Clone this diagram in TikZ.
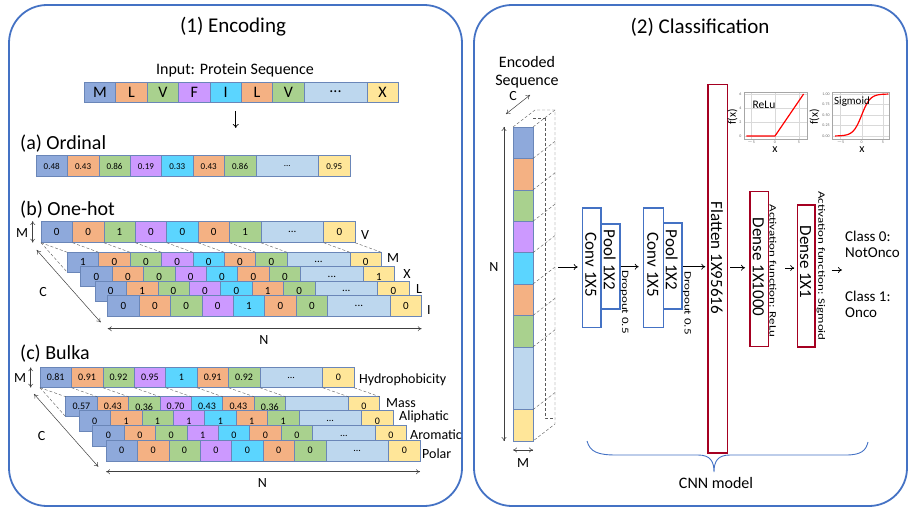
\documentclass[tikz,border=0pt]{standalone}
\usepackage{fontspec}
\setmainfont{Carlito}
\usepackage{graphicx}
\usetikzlibrary{arrows.meta,calc}
\definecolor{cblue}{HTML}{8EA9DB}
\definecolor{corange}{HTML}{F4B183}
\definecolor{cgreen}{HTML}{A9D18E}
\definecolor{cpurple}{HTML}{CC99FF}
\definecolor{ccyan}{HTML}{5BD5FF}
\definecolor{clight}{HTML}{BDD7EE}
\definecolor{cyellow}{HTML}{FFE699}
\definecolor{panelblue}{HTML}{4472C4}
\definecolor{cellline}{HTML}{6A86B8}
\definecolor{darkred}{HTML}{A50021}
\colorlet{col1}{cblue}\colorlet{col2}{corange}\colorlet{col3}{cgreen}
\colorlet{col4}{cpurple}\colorlet{col5}{ccyan}\colorlet{col6}{corange}
\colorlet{col7}{cgreen}\colorlet{col8}{clight}\colorlet{col9}{cyellow}
\newcommand\fsz[1]{\fontsize{#1}{#1}\selectfont}
\newcommand\elli{...}
% #1 options, #2 name, #3 x, #4 y(top), #5 unit, #6 height, #7 values
\newcommand\cellrow[7][]{%
  \foreach \v [count=\i] in {#7}{%
    \pgfmathsetmacro\xs{#3+#5*(\i-1)+#5*(\i>8)}%
    \pgfmathsetmacro\cw{#5*(1+(\i==8))}%
    \node[cell,fill=col\i,minimum width=\cw pt,minimum height=#6 pt,#1] (#2-\i) at (\xs,#4) {\v};%
  }%
}
\begin{document}
\begin{tikzpicture}[x=1pt,y=-1pt,
  cell/.style={draw=cellline,line width=0.6pt,anchor=north west,inner sep=0pt,outer sep=0pt},
  depth/.style={densely dashed,line width=0.4pt,black!65},
  dim/.style={{To[length=4pt,width=5pt]}-{To[length=4pt,width=5pt]},line width=0.5pt,black!75},
  arr/.style={-{To[length=4pt,width=6pt]},line width=0.7pt},
  panel/.style={draw=panelblue,line width=1.8pt,rounded corners=38pt},
  bbox/.style={draw=panelblue,line width=1.5pt,fill=white,inner sep=0pt,anchor=north west},
  rbox/.style={draw=darkred,line width=1.5pt,fill=white,inner sep=0pt,anchor=north west},
  vtxt/.style={rotate=-90,inner sep=0pt,font=\fsz{17}},
  stxt/.style={rotate=-90,inner sep=0pt,font=\fsz{13}},
  lbl/.style={inner sep=0pt,font=\fsz{14}},
  grid/.style={black!15,line width=0.3pt},
  tick/.style={inner sep=0pt,font=\fsz{4},black!60}
]
\useasboundingbox (0,0) rectangle (910,508);
% panels
\draw[panel] (9,5) rectangle (462,506);
\draw[panel] (474,5) rectangle (907,506);
\node[inner sep=0pt,font=\fsz{21}] (t1) at (233,27) {(1) Encoding};
\node[inner sep=0pt,font=\fsz{21}] (t2) at (700,27) {(2) Classification};

% ---------- input ----------
\node[inner sep=0pt,font=\fsz{16}] (intitle) at (235,70) {Input: Protein Sequence};
\cellrow[font=\fsz{16}]{in}{84.3}{82}{31.4}{20}{M,L,V,F,I,L,V,\elli,X}
\coordinate (a0s) at (235.7,111);
\coordinate (a0e) at (235.7,128);
\draw[arr] (a0s) -- (a0e);

% ---------- ordinal ----------
\node[anchor=west,inner sep=0pt,font=\fsz{20}] (lblA) at (20,144) {(a) Ordinal};
\cellrow[font=\fsz{9}]{ord}{36}{155.7}{31.4}{21}{0.48,0.43,0.86,0.19,0.33,0.43,0.86,\elli,0.95}

% ---------- one-hot ----------
\node[anchor=west,inner sep=0pt,font=\fsz{20}] (lblB) at (20,210) {(b) One-hot};
\cellrow[font=\fsz{11}]{V}{41}{221}{31.4}{21.7}{0,0,1,0,0,0,1,\elli,0}
\cellrow[font=\fsz{11}]{M}{67.3}{252.3}{31.4}{20}{1,0,0,0,0,0,0,\elli,0}
\foreach \i in {1,...,9} \draw[depth] (V-\i.south west) -- (M-\i.north west);
\draw[depth] (V-9.south east) -- (M-9.north east);
\draw[depth] (V-1.south west) -- (M-1.south west);
\cellrow[font=\fsz{11}]{X}{80.7}{266.7}{31.4}{20}{0,0,0,0,0,0,0,\elli,1}
\cellrow[font=\fsz{11}]{L}{95}{281}{31.4}{20.5}{0,1,0,0,0,1,0,\elli,0}
\cellrow[font=\fsz{11}]{I}{107.7}{295.7}{31.4}{21}{0,0,0,0,1,0,0,\elli,0}
\node[lbl] (lV) at (365,235) {V};
\node[lbl] (lM) at (393,258) {M};
\node[lbl] (lX) at (407,274) {X};
\node[lbl] (lL) at (419,289) {L};
\node[lbl] (lI) at (429,310) {I};
\node[lbl] (bM) at (22,233) {M};
\draw[dim] ([xshift=-8.3pt]V-1.north west) -- ([xshift=-8.3pt]V-1.south west);
\coordinate (bC1) at (36.7,250);
\coordinate (bC2) at (100.7,322.3);
\draw[dim] (bC1) -- (bC2);
\node[lbl] (bC) at (43,291.7) {C};
\draw[dim] ([yshift=-12pt]I-1.south west) -- ([yshift=-12pt]I-9.south east);
\node[lbl] (bN) at (264,340) {N};

% ---------- bulka ----------
\node[anchor=west,inner sep=0pt,font=\fsz{20}] (lblC) at (20,354) {(c) Bulka};
\cellrow[font=\fsz{10}]{H}{40}{367.3}{31.4}{20.4}{0.81,0.91,0.92,0.95,1,0.91,0.92,\elli,0}
\cellrow[font=\fsz{10}]{Ms}{65.7}{396.7}{31.4}{20}{0.57,0.43,0.36,0.70,0.43,0.43,0.36,{},0}
\foreach \i in {1,...,9} \draw[depth] (H-\i.south west) -- (Ms-\i.north west);
\draw[depth] (H-9.south east) -- (Ms-9.north east);
\draw[depth] (H-1.south west) -- (Ms-1.south west);
\cellrow[font=\fsz{10}]{Al}{79}{410.7}{31.4}{21}{0,1,1,1,1,1,1,\elli,0}
\cellrow[font=\fsz{10}]{Ar}{92.7}{425}{31.4}{21}{0,0,0,1,0,0,0,\elli,0}
\cellrow[font=\fsz{10}]{Po}{106}{440}{31.4}{21}{0,0,0,0,0,0,0,\elli,0}
\node[lbl,anchor=west] (lH) at (359,380) {Hydrophobicity};
\node[lbl,anchor=west] (lMs) at (386,403) {Mass};
\node[lbl,anchor=west] (lAl) at (399,417) {Aliphatic};
\node[lbl,anchor=west] (lAr) at (410,435) {Aromatic};
\node[lbl,anchor=west] (lPo) at (422,454) {Polar};
\node[lbl] (cM) at (20,378) {M};
\draw[dim] ([xshift=-9.3pt]H-1.north west) -- ([xshift=-9.3pt]H-1.south west);
\coordinate (cC1) at (34,394);
\coordinate (cC2) at (98.3,466.7);
\draw[dim] (cC1) -- (cC2);
\node[lbl] (cC) at (41.7,435.7) {C};
\draw[dim] ([yshift=-10.7pt]Po-1.south west) -- ([yshift=-10.7pt]Po-9.south east);
\node[lbl] (cN) at (262.3,483.3) {N};

% ---------- encoded sequence ----------
\node[inner sep=0pt,font=\fsz{16},align=center] (enc) at (527,72) {Encoded\\[2pt]Sequence};
\foreach \i in {1,...,9}{%
  \pgfmathsetmacro\ys{127+31.4*(\i-1)+31.4*(\i>8)}%
  \pgfmathsetmacro\ch{31.4*(1+(\i==8))}%
  \node[cell,fill=col\i,minimum width=20pt,minimum height=\ch pt] (E-\i) at (513,\ys) {};
}
\draw[depth] (E-1.north west) -- ++(22,-17) -- ++(20,0) -- ++(0,314) -- (E-9.south east);
\draw[depth] (E-1.north east) -- ++(22,-17);
\foreach \i in {2,...,9} \draw[depth] (E-\i.north east) -- ++(22,-17);
\draw[depth] (545,118) -- (545,418) -- (555,418);
\draw[depth] (533,118) -- (545,118);
\coordinate (eC1) at (506,114);
\coordinate (eC2) at (530,95);
\draw[dim] (eC1) -- (eC2);
\node[lbl] (eC) at (513,96.5) {C};
\draw[dim] ([xshift=-9pt]E-1.north west) -- ([xshift=-9pt]E-9.south west);
\node[lbl] (eN) at (494,267) {N};
\draw[dim] ([yshift=-9pt]E-9.south west) -- ([yshift=-9pt]E-9.south east);
\node[lbl] (eM) at (523,463) {M};

% ---------- CNN ----------
\node[bbox,minimum width=18.3pt,minimum height=119.4pt] (conv1) at (581.7,207.3) {};
\node[bbox,minimum width=19.3pt,minimum height=85pt] (pool1) at (600,223.3) {};
\node[bbox,minimum width=20pt,minimum height=119.4pt] (conv2) at (642.7,207.3) {};
\node[bbox,minimum width=18.3pt,minimum height=86pt] (pool2) at (662.7,222.3) {};
\node[rbox,minimum width=19.4pt,minimum height=368pt] (flat) at (707.3,84) {};
\node[rbox,minimum width=18.7pt,minimum height=155pt] (dense1) at (749,190.7) {};
\node[rbox,minimum width=17.6pt,minimum height=142pt] (dense2) at (796.7,204) {};
\node[vtxt] (conv1t) at (590.8,265) {Conv 1X5};
\node[vtxt] (pool1t) at (609.7,260) {Pool 1X2};
\node[vtxt] (conv2t) at (652.7,265) {Conv 1X5};
\node[vtxt] (pool2t) at (671.8,260) {Pool 1X2};
\node[vtxt] (flatt) at (717,258) {Flatten 1X95616};
\node[vtxt] (dense1t) at (758.4,267) {Dense 1X1000};
\node[vtxt] (dense2t) at (805.5,262) {Dense 1X1};
\node[stxt] (drop1) at (624.5,302) {\scalebox{1}[0.75]{Dropout 0.5}};
\node[stxt] (drop2) at (687,303) {\scalebox{1}[0.75]{Dropout 0.5}};
\node[stxt] (act1) at (773,271) {\scalebox{1}[0.75]{Activation function: ReLu}};
\node[stxt] (act2) at (821,266) {\scalebox{1}[0.75]{Activation function: Sigmoid}};
% arrows
\coordinate (a1s) at (558,267);
\draw[arr,shorten >=4pt] (a1s) -- (a1s -| conv1.west);
\coordinate (a2s) at (620.7,266.7);
\draw[arr,shorten >=4pt] (a2s) -- (a2s -| conv2.west);
\coordinate (a3s) at (683,266.7);
\draw[arr,shorten >=2pt] (a3s) -- (a3s -| flat.west);
\draw[arr,shorten >=4pt,shorten <=2pt] ($(flat.east)+(0,-1)$) -- ($(flat.east -| dense1.west)+(0,-1)$);
\coordinate (a5s) at (785,268);
\draw[arr,shorten >=2.5pt] (a5s) -- (a5s -| dense2.west);
\coordinate (a6s) at (831.7,270);
\coordinate (a6e) at (842,270);
\draw[arr] (a6s) -- (a6e);
\node[anchor=west,inner sep=0pt,font=\fsz{15},align=left] (cls0) at (845,244) {Class 0:\\[1pt]NotOnco};
\node[anchor=west,inner sep=0pt,font=\fsz{15},align=left] (cls1) at (845,304) {Class 1:\\[1pt]Onco};

% brace
\draw[panelblue,line width=0.9pt] (587,441) .. controls (590,452) and (598,455) .. (616,455)
  -- (698,455) .. controls (710,455) and (714,461) .. (714,472)
  .. controls (714,461) and (718,455) .. (730,455)
  -- (846,455) .. controls (862,455) and (866,450) .. (868,442);
\node[inner sep=0pt,font=\fsz{16}] (cnn) at (716,483) {CNN model};

% ---------- ReLu plot ----------
\draw[grid] (751.2,92.7) -- (751.2,139.3) (775,92.7) -- (775,139.3) (798.9,92.7) -- (798.9,139.3);
\draw[grid] (744.3,136) -- (806.7,136) (744.3,122) -- (806.7,122) (744.3,108) -- (806.7,108) (744.3,94) -- (806.7,94);
\draw[black!35,line width=0.4pt] (744.3,92.7) rectangle (806.7,139.3);
\draw[red,line width=1.2pt] (746.4,136) -- (775,136) -- (803.6,94);
\node[tick] at (740.5,136) {0};
\node[tick] at (740.5,122) {2};
\node[tick] at (740.5,108) {4};
\node[tick] at (740.5,94) {6};
\node[tick] at (751.2,142.5) {$-$5};
\node[tick] at (775,142.5) {0};
\node[tick] at (798.9,142.5) {5};
\node[inner sep=0pt,font=\fsz{11.5}] (relu) at (764,105) {ReLu};
\node[inner sep=0pt,font=\fsz{11.5},rotate=90] (fx1) at (732.5,117) {f(x)};
\node[inner sep=0pt,font=\fsz{12}] (x1) at (775,150) {x};

% ---------- Sigmoid plot ----------
\draw[grid] (840.5,92.7) -- (840.5,139.3) (861.7,92.7) -- (861.7,139.3) (882.9,92.7) -- (882.9,139.3);
\draw[grid] (832.3,136) -- (889,136) (832.3,125.5) -- (889,125.5) (832.3,115) -- (889,115) (832.3,104.5) -- (889,104.5) (832.3,94) -- (889,94);
\draw[black!35,line width=0.4pt] (832.3,92.7) rectangle (889,139.3);
\draw[red,line width=1.2pt] plot[domain=-6.3:6.3,samples=50,smooth] ({861.7+4.23*\x},{136-42/(1+exp(-\x))});
\node[tick] at (826,136) {0.00};
\node[tick] at (826,125.5) {0.25};
\node[tick] at (826,115) {0.50};
\node[tick] at (826,104.5) {0.75};
\node[tick] at (826,94) {1.00};
\node[tick] at (840.5,142.5) {$-$5};
\node[tick] at (861.7,142.5) {0};
\node[tick] at (882.9,142.5) {5};
\node[inner sep=0pt,font=\fsz{11}] (sig) at (852,102) {Sigmoid};
\node[inner sep=0pt,font=\fsz{11.5},rotate=90] (fx2) at (814.5,117) {f(x)};
\node[inner sep=0pt,font=\fsz{12}] (x2) at (862,150) {x};
\end{tikzpicture}
\end{document}
